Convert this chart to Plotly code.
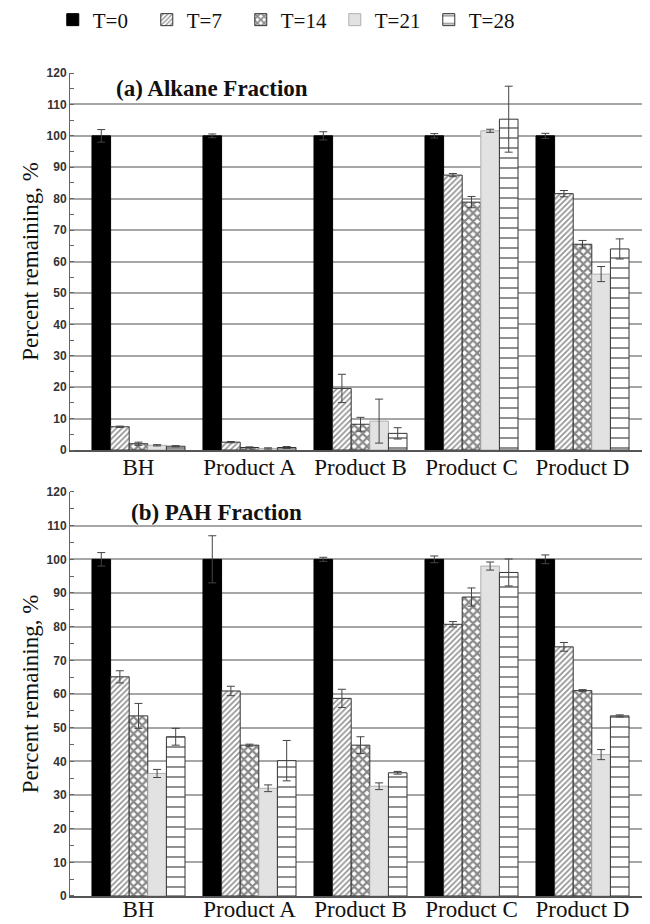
import plotly.graph_objects as go
from plotly.subplots import make_subplots

categories = ["BH", "Product A", "Product B", "Product C", "Product D"]
series_names = ["T=0", "T=7", "T=14", "T=21", "T=28"]

# (a) Alkane fraction
alk_t0 = [100, 100, 100, 100, 100]
alk_t7 = [7.4, 2.5, 19.6, 87.5, 81.6]
alk_t14 = [2.0, 0.8, 8.2, 78.9, 65.5]
alk_t21 = [1.5, 0.5, 9.2, 101.6, 56.0]
alk_t28 = [1.2, 0.8, 5.3, 105.3, 64.0]
alk_e0 = [2.0, 0.6, 1.3, 0.7, 0.8]
alk_e7 = [0.2, 0.2, 4.5, 0.5, 1.0]
alk_e14 = [0.5, 0.2, 2.2, 1.8, 1.2]
alk_e21 = [0.2, 0.2, 7.0, 0.5, 2.4]
alk_e28 = [0.2, 0.3, 1.8, 10.5, 3.2]

# (b) PAH fraction
pah_t0 = [100, 100, 100, 100, 100]
pah_t7 = [65.1, 60.9, 58.7, 80.7, 74.0]
pah_t14 = [53.5, 44.8, 44.8, 88.8, 61.0]
pah_t21 = [36.4, 32.0, 32.6, 98.0, 42.0]
pah_t28 = [47.3, 40.2, 36.6, 96.1, 53.5]
pah_e0 = [2.0, 7.0, 0.6, 1.0, 1.3]
pah_e7 = [1.8, 1.4, 2.7, 0.8, 1.3]
pah_e14 = [3.7, 0.3, 2.5, 2.7, 0.3]
pah_e21 = [1.2, 1.0, 1.0, 1.2, 1.5]
pah_e28 = [2.5, 6.0, 0.4, 4.0, 0.3]

y_ticks = list(range(0, 121, 10))

styles = [
    dict(color="black", line=dict(color="black", width=1)),
    dict(color="white", line=dict(color="#333", width=1),
         pattern=dict(shape="/", fgcolor="#222", bgcolor="white", size=4, solidity=0.4)),
    dict(color="white", line=dict(color="#333", width=1),
         pattern=dict(shape="x", fgcolor="#111", bgcolor="white", size=6, solidity=0.6)),
    dict(color="#e2e2e2", line=dict(color="#b0b0b0", width=1)),
    dict(color="white", line=dict(color="#333", width=1),
         pattern=dict(shape="-", fgcolor="#222", bgcolor="white", size=10, solidity=0.2)),
]

fig = make_subplots(rows=2, cols=1, vertical_spacing=0.05)

alk = [(alk_t0, alk_e0), (alk_t7, alk_e7), (alk_t14, alk_e14), (alk_t21, alk_e21), (alk_t28, alk_e28)]
pah = [(pah_t0, pah_e0), (pah_t7, pah_e7), (pah_t14, pah_e14), (pah_t21, pah_e21), (pah_t28, pah_e28)]

for row, data in ((1, alk), (2, pah)):
    for i, (vals, errs) in enumerate(data):
        fig.add_trace(go.Bar(
            x=categories, y=vals, name=series_names[i],
            marker=styles[i], showlegend=(row == 1),
            error_y=dict(type="data", array=errs, visible=True, color="#444",
                         thickness=1, width=4),
        ), row=row, col=1)

serif = "Liberation Serif"
sans = "Liberation Sans"

for ax_y, dom in (("yaxis", [0.5419, 1.0]), ("yaxis2", [0.0, 0.4909])):
    fig.layout[ax_y].update(
        domain=dom, range=[0, 120], tickvals=y_ticks, showgrid=True,
        gridcolor="#a6a6a6", gridwidth=1.5, showline=True, linecolor="#666",
        linewidth=1, ticks="", mirror=False,
        tickfont=dict(family=sans, size=12, color="#333", weight="bold"),
        minor=dict(dtick=5, ticks="inside", ticklen=4, tickcolor="#666", showgrid=False),
        title=dict(text="Percent remaining, %",
                   font=dict(family=serif, size=23, color="#111"), standoff=1),
        zeroline=False,
    )
for ax_x, standoff in (("xaxis", -4), ("xaxis2", -8)):
    fig.layout[ax_x].update(
        range=[-0.617, 4.608], showline=True, linecolor="#555", linewidth=1.5,
        ticks="", tickfont=dict(family=serif, size=23, color="#111"),
        ticklabelstandoff=standoff,
    )

fig.add_annotation(text="<b>(a) Alkane Fraction</b>", xref="x domain", yref="y domain",
                   x=0.244, y=0.960, xanchor="center", yanchor="middle", showarrow=False,
                   font=dict(family=serif, size=23, color="#111"))
fig.add_annotation(text="<b>(b) PAH Fraction</b>", xref="x2 domain", yref="y2 domain",
                   x=0.253, y=0.950, xanchor="center", yanchor="middle", showarrow=False,
                   font=dict(family=serif, size=23, color="#111"))

fig.update_layout(
    width=650, height=924,
    margin=dict(l=62, r=8, t=65, b=36, autoexpand=False),
    barmode="group", bargap=0.162, bargroupgap=0,
    plot_bgcolor="white", paper_bgcolor="white",
    legend=dict(orientation="h", x=-0.0297, xanchor="left", y=1.0644, yanchor="middle",
                font=dict(family=serif, size=21, color="#111"),
                itemwidth=30, entrywidth=49, entrywidthmode="pixels"),
)

fig.write_html("out.html")
